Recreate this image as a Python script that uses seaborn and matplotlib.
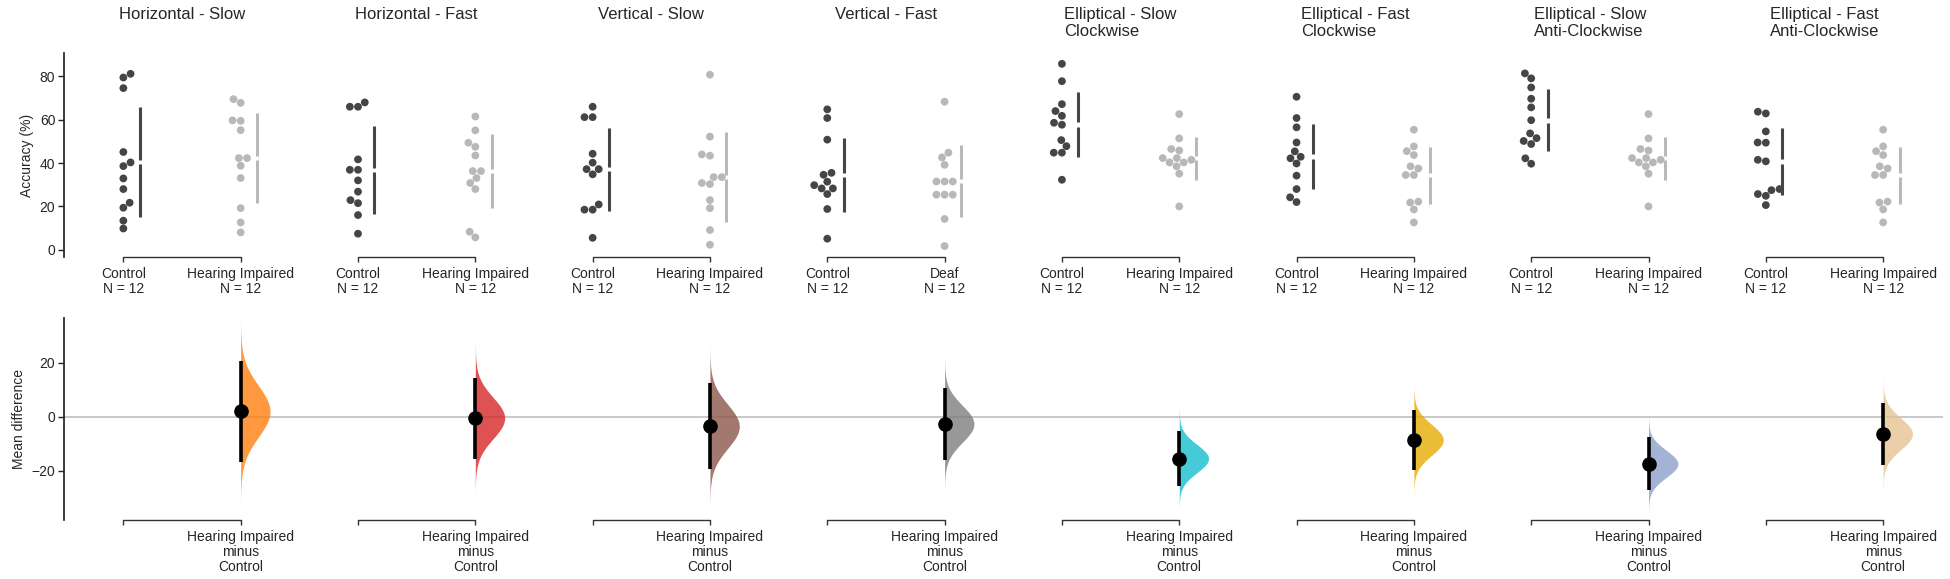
import numpy as np
import pandas as pd
import matplotlib.pyplot as plt
import matplotlib.transforms as mtransforms
import seaborn as sns

# Panel titles and group names
titles = ['Horizontal - Slow', 'Horizontal - Fast', 'Vertical - Slow', 'Vertical - Fast',
          'Elliptical - Slow\nClockwise', 'Elliptical - Fast\nClockwise',
          'Elliptical - Slow\nAnti-Clockwise', 'Elliptical - Fast\nAnti-Clockwise']
test_names = ['Hearing Impaired', 'Hearing Impaired', 'Hearing Impaired', 'Deaf',
              'Hearing Impaired', 'Hearing Impaired', 'Hearing Impaired', 'Hearing Impaired']

# Accuracy (%)
control_acc = [
    [81.2, 79.5, 74.6, 45.1, 40.3, 38.6, 32.9, 28.0, 21.7, 19.4, 13.4, 9.8],
    [68.0, 66.0, 66.0, 41.7, 36.9, 36.9, 32.0, 26.8, 22.9, 21.5, 16.0, 7.4],
    [66.0, 61.2, 61.2, 44.3, 40.2, 37.2, 37.2, 34.8, 20.9, 18.5, 18.5, 5.5],
    [64.8, 60.8, 50.8, 35.5, 34.6, 31.4, 29.8, 28.3, 28.3, 25.7, 18.8, 5.1],
    [85.8, 77.8, 67.2, 64.0, 61.8, 58.6, 57.7, 50.6, 47.8, 44.8, 44.8, 32.3],
    [70.6, 60.8, 56.5, 49.5, 45.4, 42.9, 42.2, 39.8, 34.2, 28.0, 24.2, 22.0],
    [81.4, 79.1, 74.9, 69.7, 65.7, 59.8, 53.7, 51.5, 50.2, 48.8, 42.2, 39.7],
    [63.7, 62.9, 54.6, 49.5, 49.4, 41.5, 40.8, 28.0, 27.5, 25.7, 24.9, 20.6],
]
impaired_acc = [
    [69.5, 67.8, 59.7, 59.5, 55.2, 42.3, 42.3, 38.8, 33.1, 19.2, 12.6, 8.0],
    [61.5, 55.1, 49.4, 47.5, 43.5, 36.3, 36.3, 33.1, 30.8, 28.0, 8.3, 5.7],
    [80.8, 52.2, 44.0, 43.4, 33.5, 33.5, 30.8, 30.3, 22.9, 19.2, 9.1, 2.3],
    [68.3, 44.8, 42.6, 39.2, 31.5, 31.5, 31.5, 25.4, 25.4, 25.4, 14.2, 1.7],
    [62.6, 51.4, 46.5, 45.8, 42.3, 42.3, 41.5, 40.3, 40.3, 38.5, 35.1, 20.0],
    [55.4, 47.7, 45.5, 43.7, 38.5, 37.5, 34.5, 34.5, 22.2, 21.8, 18.6, 12.6],
    [62.6, 51.4, 46.5, 45.8, 42.3, 42.3, 41.5, 40.3, 40.3, 38.5, 35.1, 20.0],
    [55.4, 47.7, 45.5, 43.7, 38.5, 37.5, 34.5, 34.5, 22.2, 21.8, 18.6, 12.6],
]
violin_colors = ['#ff7f0e', '#d62728', '#8c564b', '#7f7f7f',
                 '#17becf', '#e6ab02', '#8da0cb', '#e5c494']

ctrl_color = '#454545'
test_color = '#b8b8b8'

rows = []
for i in range(len(titles)):
    for v in control_acc[i]:
        rows.append({'pos': 2 * i, 'acc': v, 'grp': 'Control'})
    for v in impaired_acc[i]:
        rows.append({'pos': 2 * i + 1, 'acc': v, 'grp': 'Test'})
df = pd.DataFrame(rows)

sns.set_theme(style='ticks')
plt.rcParams['font.family'] = ['Liberation Sans', 'DejaVu Sans']

fig = plt.figure(figsize=(19.5, 5.79), dpi=100)
ax = fig.add_axes([0.033, 0.5567, 0.9634, 0.351])
ax2 = fig.add_axes([0.033, 0.1019, 0.9634, 0.3484])

# raw data swarms
sns.swarmplot(ax=ax, data=df, x='pos', y='acc', hue='grp', native_scale=True,
              palette={'Control': ctrl_color, 'Test': test_color}, size=5.6,
              legend=False, linewidth=0)

# mean +/- sd bars with a gap at the mean
gap = 1.0
for i in range(len(titles)):
    for k, vals, col in [(0, control_acc[i], ctrl_color), (1, impaired_acc[i], test_color)]:
        vals = np.array(vals)
        m, s = vals.mean(), vals.std(ddof=1)
        x = 2 * i + k + 0.14
        ax.plot([x, x], [m - s, m - gap], color=col, lw=2.2, solid_capstyle='butt')
        ax.plot([x, x], [m + gap, m + s], color=col, lw=2.2, solid_capstyle='butt')

# effect sizes
ax2.axhline(0, color='#c4c4c4', lw=1.3, zorder=0)
for i in range(len(titles)):
    c = np.array(control_acc[i])
    t = np.array(impaired_acc[i])
    diff = t.mean() - c.mean()
    se = np.sqrt(c.var(ddof=1) / len(c) + t.var(ddof=1) / len(t))
    ys = np.linspace(diff - 3.7 * se, diff + 3.7 * se, 300)
    dens = np.exp(-0.5 * ((ys - diff) / se) ** 2)
    x0 = 2 * i + 1
    ax2.fill_betweenx(ys, x0, x0 + 0.25 * dens, color=violin_colors[i], alpha=0.8, lw=0)
    ax2.plot([x0, x0], [diff - 1.96 * se, diff + 1.96 * se], color='black', lw=2.6,
             solid_capstyle='butt')
    ax2.plot(x0, diff, 'o', color='black', ms=9.5)

npos = 2 * len(titles)
for a in (ax, ax2):
    a.set_xlim(-0.503, 15.51)
    a.set_xticks(range(npos))
    for side in ['top', 'right', 'bottom']:
        a.spines[side].set_visible(False)
    a.spines['left'].set_color('#222222')
    a.tick_params(axis='x', length=3.6, width=1, color='#333333', labelsize=10, pad=3.5)
    a.tick_params(axis='y', length=4, width=1, color='#222222', labelsize=10, pad=2.5)
    tr = mtransforms.blended_transform_factory(a.transData, a.transAxes)
    for i in range(len(titles)):
        a.plot([2 * i, 2 * i + 1], [0, 0], transform=tr, color='#333333', lw=1,
               clip_on=False)
    a.set_xlabel('')

top_labels = []
bottom_labels = []
for i in range(len(titles)):
    top_labels += [f'Control\nN = {len(control_acc[i])}',
                   f'{test_names[i]}\nN = {len(impaired_acc[i])}']
    bottom_labels += ['', 'Hearing Impaired\nminus\nControl']
ax.set_xticklabels(top_labels, linespacing=1.1)
ax2.set_xticklabels(bottom_labels, linespacing=1.1)

ax.set_ylim(-3.2, 90.6)
ax.set_yticks([0, 20, 40, 60, 80])
ax.set_ylabel('Accuracy (%)', fontsize=10)
ax2.set_ylim(-38.3, 36.4)
ax2.set_yticks([-20, 0, 20])
ax2.set_ylabel('Mean difference', fontsize=10)

for i, t in enumerate(titles):
    ax.text(2 * i + 0.5, 1.0 - 7.3 / 579, t, transform=mtransforms.blended_transform_factory(
        ax.transData, fig.transFigure), ha='center', va='top', multialignment='left',
        fontsize=12, linespacing=1.15)

fig.savefig('out.png', dpi=100, facecolor='white')
